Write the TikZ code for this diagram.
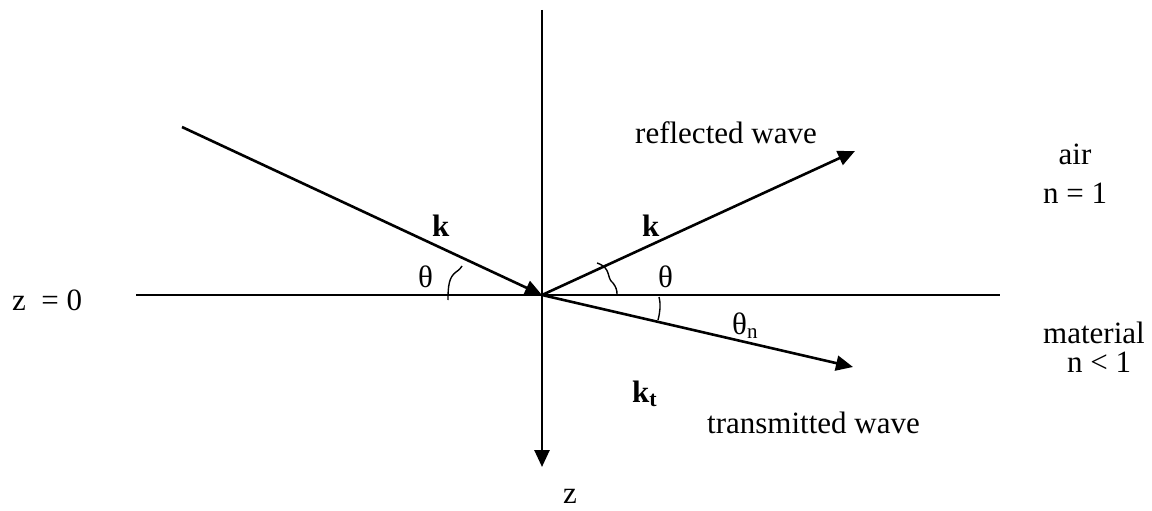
\documentclass[tikz,border=0pt]{standalone}
\usepackage{fontspec}
\setmainfont{Liberation Serif}
\usetikzlibrary{arrows.meta}
\begin{document}
\begin{tikzpicture}[x=1pt,y=-1pt,
  ray/.style={line width=2.6pt,-{Triangle[length=17pt,width=15pt]}},
  plain/.style={line width=2.6pt},
  anglemark/.style={line width=1.4pt},
  lbl/.style={inner sep=0pt,font=\fontsize{31}{36}\selectfont}]
\useasboundingbox (0,0) rectangle (1152,511);
% key points
\coordinate (O) at (542,295);
\coordinate (ztop) at (542,10);
\coordinate (zbot) at (542,467);
\coordinate (hl) at (136,295);
\coordinate (hr) at (1000,295);
\coordinate (inc) at (182,127);
\coordinate (refl) at (855,151);
\coordinate (trans) at (853,367);
% axes
\draw[plain] (hl) -- (hr);
\draw[ray] (ztop) -- (zbot);
% rays
\draw[ray] (inc) -- (O);
\draw[ray] (O) -- (refl);
\draw[ray] (O) -- (trans);
% angle marks
\draw[anglemark] (448,300) .. controls (448,286) and (449,277) .. (456,272) .. controls (459,270) and (461,268) .. (462,266);
\draw[anglemark] (597,263) .. controls (612,268) and (606,278) .. (613,283) .. controls (616,287) and (617,290) .. (617,294);
\draw[anglemark] (659,297) .. controls (661,305) and (660,312) .. (658,320);
% labels
\node[lbl,anchor=base west] (z0) at (12,310) {z\ \ = 0};
\node[lbl,anchor=base west] (kin) at (432,236) {\textbf{k}};
\node[lbl,anchor=base west] (kre) at (642,236) {\textbf{k}};
\node[lbl,anchor=base west] (thl) at (418,287) {θ};
\node[lbl,anchor=base west] (thr) at (658,287) {θ};
\node[lbl,anchor=base west] (thn) at (732,334) {θ\raisebox{-4pt}{\fontsize{21}{21}\selectfont n}};
\node[lbl,anchor=base west] (kt) at (632,402) {\textbf{k}\raisebox{-4pt}{\fontsize{22}{22}\selectfont\bfseries t}};
\node[lbl,anchor=base west] (rw) at (635,143) {reflected wave};
\node[lbl,anchor=base west] (tw) at (707,433) {transmitted wave};
\node[lbl,anchor=base] (air) at (1075,164) {air};
\node[lbl,anchor=base west] (n1) at (1043,203) {n = 1};
\node[lbl,anchor=base west] (mat) at (1043,343) {material};
\node[lbl,anchor=base west] (nl1) at (1067,372) {n < 1};
\node[lbl,anchor=base west] (zl) at (563,503) {z};
\end{tikzpicture}
\end{document}
